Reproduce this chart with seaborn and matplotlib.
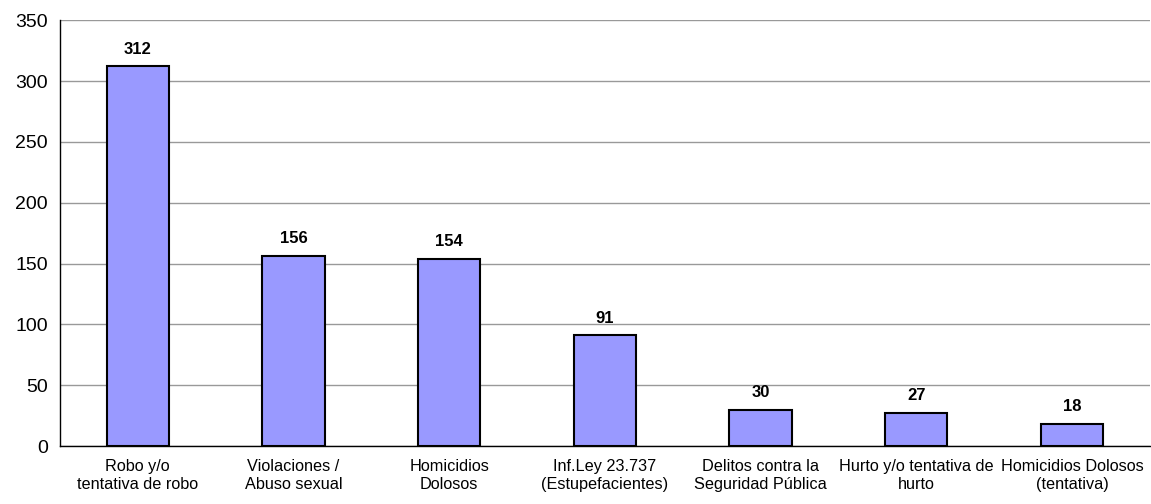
import seaborn as sns
import pandas as pd
import matplotlib.pyplot as plt

categories = [
    "Robo y/o\ntentativa de robo",
    "Violaciones /\nAbuso sexual",
    "Homicidios\nDolosos",
    "Inf.Ley 23.737\n(Estupefacientes)",
    "Delitos contra la\nSeguridad Pública",
    "Hurto y/o tentativa de\nhurto",
    "Homicidios Dolosos\n(tentativa)",
]
values = [312, 156, 154, 91, 30, 27, 18]

df = pd.DataFrame({"Delito": categories, "Cantidad": values})

sns.set_style("white")
plt.rcParams["font.family"] = ["Liberation Sans", "DejaVu Sans"]
plt.rcParams["text.color"] = "black"
plt.rcParams["xtick.color"] = "black"
plt.rcParams["ytick.color"] = "black"

fig = plt.figure(figsize=(11.51, 5.04), dpi=100)
ax = fig.add_axes([0.052, 0.115, 0.947, 0.845])

sns.barplot(data=df, x="Delito", y="Cantidad", color="#9999FF",
            edgecolor="black", linewidth=1.5, width=0.4, saturation=1, ax=ax)

for i, v in enumerate(values):
    ax.text(i, v + 8, str(v), ha="center", va="bottom", fontsize=12, fontweight="bold", color="black")

ax.set_ylim(0, 350)
ax.set_xlim(-0.5, len(categories) - 0.5)
ax.set_yticks(range(0, 351, 50))
ax.yaxis.grid(True, color="#999999", linewidth=1)
ax.set_axisbelow(True)
ax.set_xlabel("")
ax.set_ylabel("")

ax.set_xticks([i - 0.5 for i in range(len(categories) + 1)], minor=False)
ax.set_xticklabels([])
ax.set_xticks(range(len(categories)), minor=True)
ax.set_xticklabels(categories, minor=True, fontsize=11.7, linespacing=1.25)
ax.tick_params(axis="x", which="major", direction="out", length=5, width=1, color="black")
ax.tick_params(axis="x", which="minor", length=0, pad=9)
ax.tick_params(axis="y", direction="out", length=5, width=1, color="black", labelsize=14)

for side in ["top", "right"]:
    ax.spines[side].set_visible(False)
for side in ["left", "bottom"]:
    ax.spines[side].set_color("black")
    ax.spines[side].set_linewidth(1)

fig.savefig("out.png", dpi=100)
